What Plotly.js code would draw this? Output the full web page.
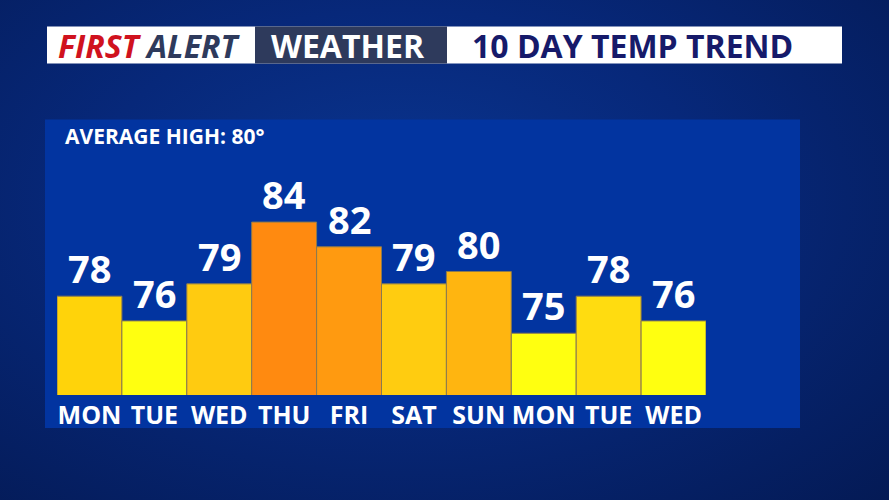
<!DOCTYPE html>
<html><head><meta charset="utf-8">
<script src="https://cdn.plot.ly/plotly-3.0.1.min.js"></script>
<style>
html,body{margin:0;padding:0;width:889px;height:500px;overflow:hidden;
background: radial-gradient(ellipse at 45% 40%, #0a3590 0%, #07287a 45%, #041a55 100%);}
#chart{width:889px;height:500px;}
</style></head><body>
<div id="chart"></div>
<script>
const days = ["MON","TUE","WED","THU","FRI","SAT","SUN","MON","TUE","WED"];
const highs = [78, 76, 79, 84, 82, 79, 80, 75, 78, 76];
const barColors = ["#ffd30a","#ffff10","#ffcb10","#ff8a10","#ff9a10","#ffcc10","#ffb510","#ffff10","#ffdc10","#ffff10"];
const averageHigh = 80;
const idx = days.map((d,i)=>i);

// plot area in pixels: x 57..706, y 148.4..395
const L=57, R=706, T=148.4, B=395;
const px = x => (x-L)/(R-L);
const py = y => (B-y)/(B-T);
const FONT = 'Open Sans, sans-serif';

const trace = {
  type:'bar', x: idx, y: highs,
  marker:{color: barColors, line:{color:'#8a7a50', width:1}},
  hoverinfo:'skip'
};

const valueLabels = highs.map((v,i)=>({
  x: i, y: v, xref:'x', yref:'y', xanchor:'center', yanchor:'bottom', showarrow:false,
  yshift: 0, text: '<b>' + v + '</b>', font:{family:FONT, size:38, color:'#ffffff'}
}));

const layout = {
  width:889, height:500,
  margin:{l:L, r:889-R, t:T, b:500-B, pad:0},
  paper_bgcolor:'rgba(0,0,0,0)', plot_bgcolor:'rgba(0,0,0,0)',
  bargap:0, showlegend:false,
  xaxis:{range:[-0.5,9.5], tickvals: idx, ticktext: days, showgrid:false, zeroline:false,
    showline:false, ticks:'', ticklabelstandoff:3,
    tickfont:{family:FONT, size:25, color:'#ffffff', weight:700}, fixedrange:true},
  yaxis:{range:[70,90], visible:false, fixedrange:true},
  shapes:[
    {type:'rect', xref:'paper', yref:'paper', x0:px(45), x1:px(800), y0:py(428), y1:py(120),
      fillcolor:'#0234a0', line:{width:0}, layer:'below'},
    {type:'rect', xref:'paper', yref:'paper', x0:px(47), x1:px(842), y0:py(64), y1:py(27),
      fillcolor:'#ffffff', line:{width:0}, layer:'below'},
    {type:'rect', xref:'paper', yref:'paper', x0:px(255), x1:px(447), y0:py(64), y1:py(27),
      fillcolor:'#2e3a5c', line:{width:0}, layer:'below'}
  ],
  annotations:[
    {xref:'paper', yref:'paper', x:px(149), y:py(46), xanchor:'center', yanchor:'middle', showarrow:false,
      text:"<b><i><span style='color:#d0121e'>FIRST</span> ALERT</i></b>",
      font:{family:FONT, size:32, color:'#2e3a5c'}},
    {xref:'paper', yref:'paper', x:px(347.5), y:py(46), xanchor:'center', yanchor:'middle', showarrow:false,
      text:"<b>WEATHER</b>", font:{family:FONT, size:32, color:'#ffffff'}},
    {xref:'paper', yref:'paper', x:px(632.5), y:py(46), xanchor:'center', yanchor:'middle', showarrow:false,
      text:"<b>10 DAY TEMP TREND</b>", font:{family:FONT, size:32, color:'#161a6a'}},
    {xref:'paper', yref:'paper', x:px(63), y:py(136), xanchor:'left', yanchor:'middle', showarrow:false,
      text:"<b>AVERAGE HIGH: " + averageHigh + "°</b>", font:{family:FONT, size:21, color:'#ffffff'}}
  ].concat(valueLabels)
};
Plotly.newPlot('chart',[trace],layout,{displayModeBar:false, staticPlot:true});
</script>
</body></html>
